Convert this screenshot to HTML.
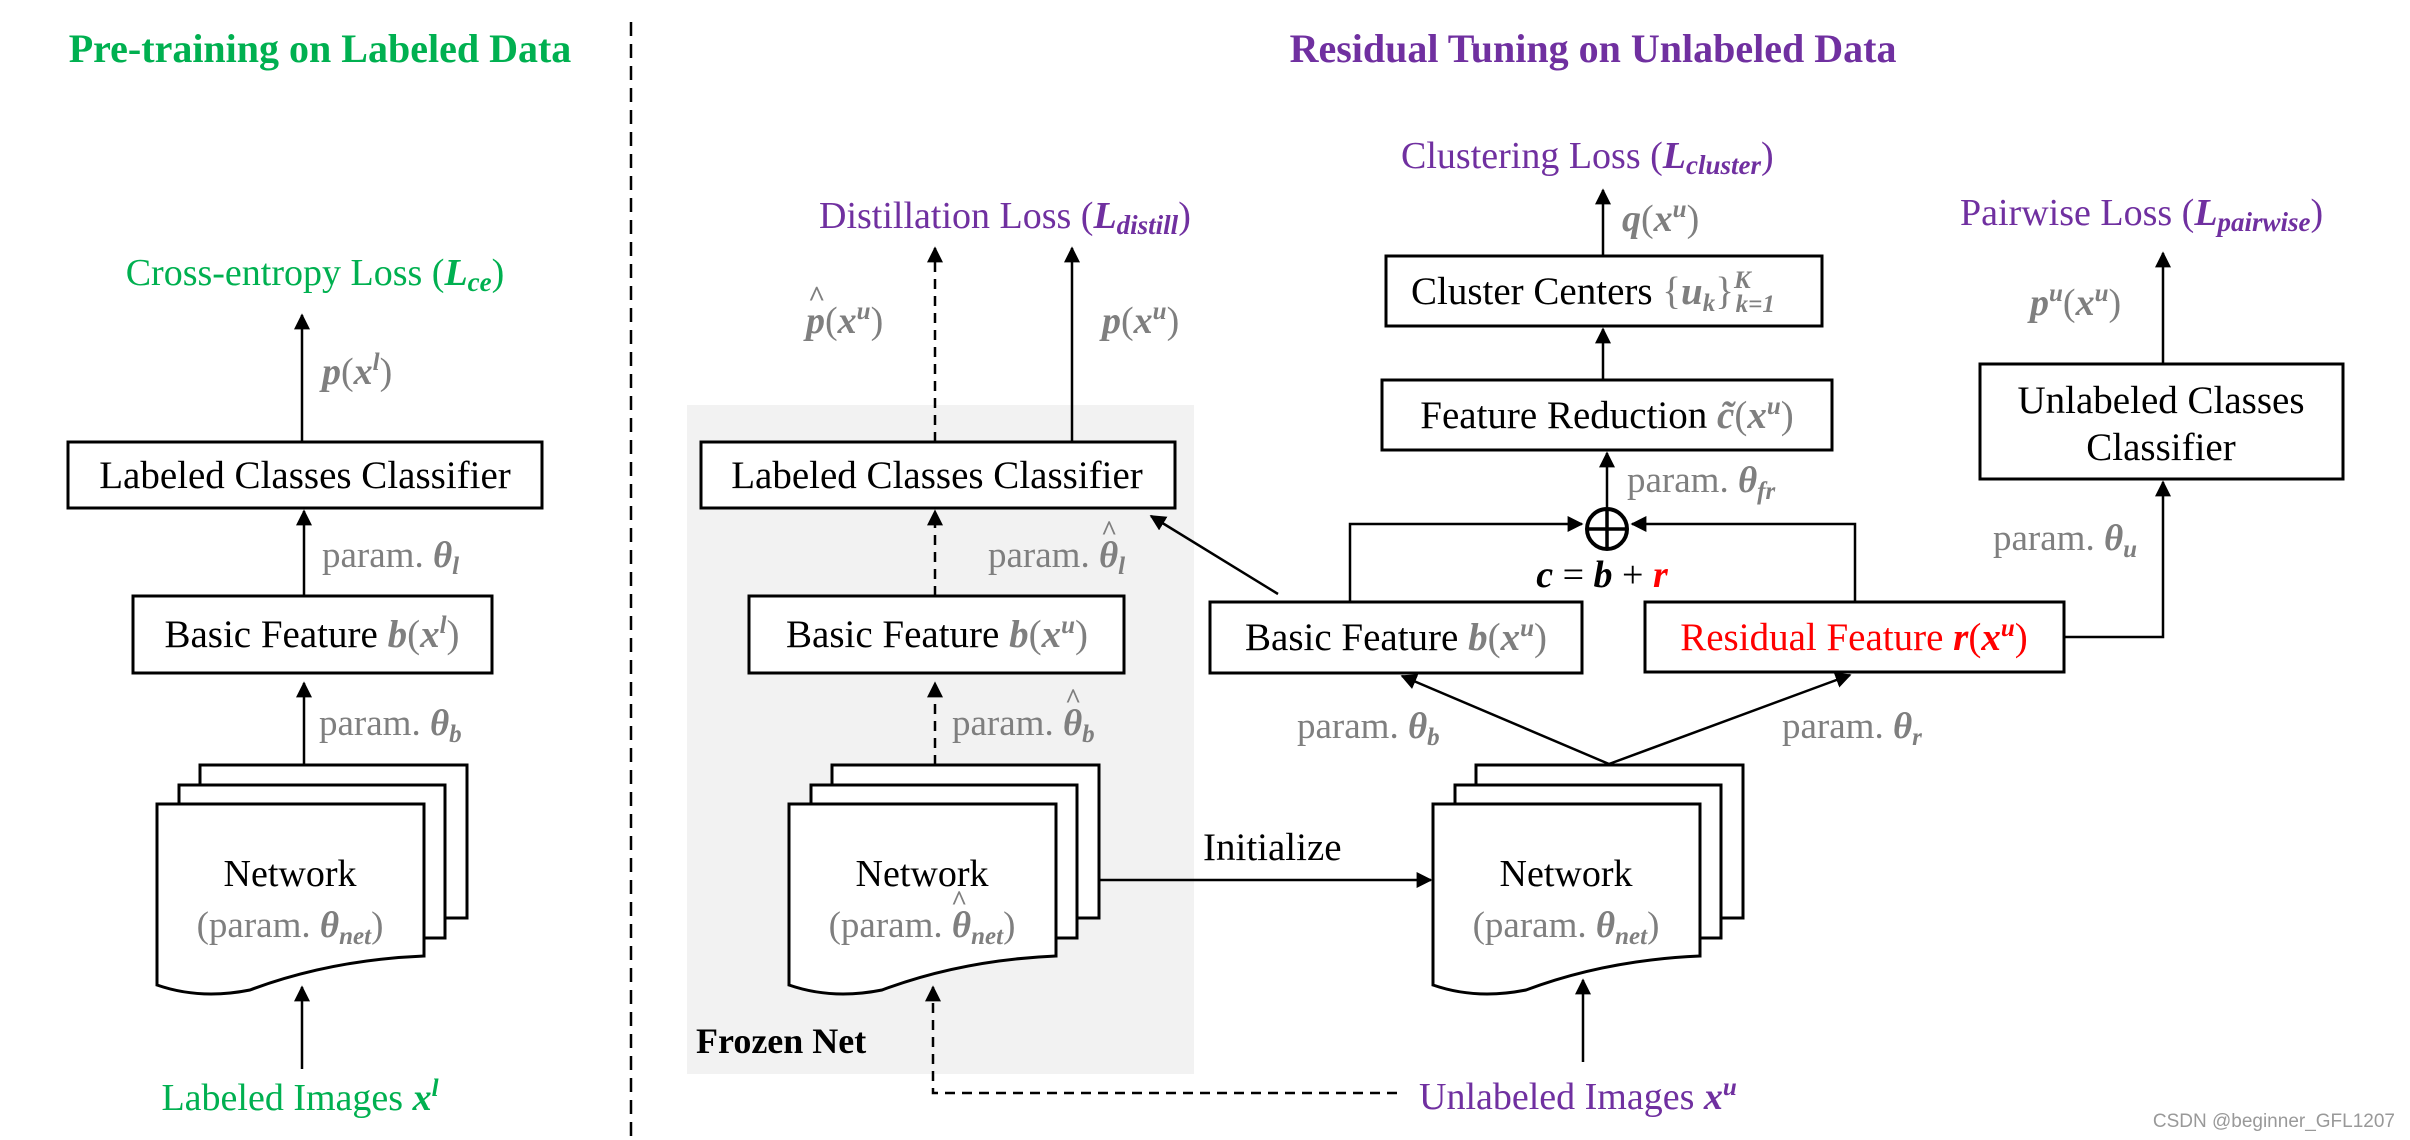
<!DOCTYPE html>
<html><head><meta charset="utf-8"><style>
html,body{margin:0;padding:0;background:#fff}
svg{display:block}
text{font-family:"Liberation Serif",serif}
.bx{fill:#fff;stroke:#000;stroke-width:3}
.t{font-size:39px;fill:#000}
.g{fill:#7f7f7f}
.m{font-style:italic;font-weight:bold}
.gr{fill:#00b050}
.pu{fill:#7030a0}
.ln{stroke:#000;stroke-width:2.5;fill:none}
.ds{stroke:#000;stroke-width:2.5;fill:none;stroke-dasharray:10,7}
</style></head><body>
<svg width="2410" height="1140" viewBox="0 0 2410 1140" xmlns="http://www.w3.org/2000/svg">
<defs>
<marker id="ah" viewBox="0 0 10 10" refX="9" refY="5" markerWidth="16" markerHeight="16" orient="auto" markerUnits="userSpaceOnUse"><path d="M0,0 L10,5 L0,10 z" fill="#000"/></marker>
</defs>

<rect x="687" y="405" width="507" height="669" fill="#f2f2f2"/>
<line x1="631" y1="22" x2="631" y2="1140" stroke="#000" stroke-width="2.5" stroke-dasharray="14,8"/>

<text x="320" y="62" text-anchor="middle" font-size="40" font-weight="bold" class="gr">Pre-training on Labeled Data</text>
<text x="1593" y="62" text-anchor="middle" font-size="40" font-weight="bold" class="pu">Residual Tuning on Unlabeled Data</text>

<!-- LEFT -->
<text x="315" y="285" text-anchor="middle" font-size="38" class="gr">Cross-entropy Loss (<tspan class="m">L<tspan font-size="27" dy="6">ce</tspan></tspan><tspan dy="-6">)</tspan></text>
<line x1="302" y1="442" x2="302" y2="315" class="ln" marker-end="url(#ah)"/>
<text x="322" y="384" font-size="38" class="g"><tspan class="m">p</tspan>(<tspan class="m">x</tspan><tspan class="m" font-size="25" dy="-14">l</tspan><tspan dy="14">)</tspan></text>
<rect x="68" y="442" width="474" height="66" class="bx"/>
<text x="305" y="488" text-anchor="middle" class="t">Labeled Classes Classifier</text>
<line x1="304" y1="596" x2="304" y2="511" class="ln" marker-end="url(#ah)"/>
<text x="322" y="567" font-size="37" class="g">param. <tspan class="m">θ<tspan font-size="25" dy="7">l</tspan></tspan></text>
<rect x="133" y="596" width="359" height="77" class="bx"/>
<text x="312" y="647" text-anchor="middle" class="t">Basic Feature <tspan class="g m">b</tspan><tspan class="g">(<tspan class="m">x</tspan><tspan class="m" font-size="25" dy="-14">l</tspan><tspan dy="14">)</tspan></tspan></text>
<line x1="304" y1="765" x2="304" y2="683" class="ln" marker-end="url(#ah)"/>
<text x="319" y="735" font-size="37" class="g">param. <tspan class="m">θ<tspan font-size="25" dy="7">b</tspan></tspan></text>

<g>
<rect x="200" y="765" width="267" height="153" class="bx" stroke-width="2.5"/>
<rect x="179" y="785" width="266" height="153" class="bx" stroke-width="2.5"/>
<path d="M157,804 L424,804 L424,956 Q330,960 250,990 Q200,1000 157,985 Z" class="bx" stroke-width="2.5"/>
<text x="290" y="886" text-anchor="middle" font-size="38">Network</text>
<text x="290" y="937" text-anchor="middle" font-size="37" class="g">(param. <tspan class="m">θ<tspan font-size="25" dy="7">net</tspan></tspan><tspan dy="-7">)</tspan></text>
</g>
<line x1="302" y1="1069" x2="302" y2="987" class="ln" marker-end="url(#ah)"/>
<text x="300" y="1110" text-anchor="middle" font-size="38" class="gr">Labeled Images <tspan class="m">x</tspan><tspan class="m" font-size="25" dy="-14">l</tspan></text>

<!-- FROZEN -->
<text x="819" y="228" font-size="38" class="pu">Distillation Loss (<tspan class="m">L<tspan font-size="27" dy="6">distill</tspan></tspan><tspan dy="-6">)</tspan></text>
<line x1="935" y1="442" x2="935" y2="248" class="ds" marker-end="url(#ah)"/>
<line x1="1072" y1="442" x2="1072" y2="248" class="ln" marker-end="url(#ah)"/>
<text x="806" y="333" font-size="38" class="g"><tspan class="m">p</tspan>(<tspan class="m">x</tspan><tspan class="m" font-size="25" dy="-14">u</tspan><tspan dy="14">)</tspan></text>
<text x="808" y="306" font-size="30" class="g" font-weight="bold">^</text>
<text x="1102" y="333" font-size="38" class="g"><tspan class="m">p</tspan>(<tspan class="m">x</tspan><tspan class="m" font-size="25" dy="-14">u</tspan><tspan dy="14">)</tspan></text>
<rect x="701" y="442" width="474" height="66" class="bx"/>
<text x="937" y="488" text-anchor="middle" class="t">Labeled Classes Classifier</text>
<line x1="935" y1="596" x2="935" y2="511" class="ds" marker-end="url(#ah)"/>
<text x="988" y="567" font-size="37" class="g">param. <tspan class="m">θ<tspan font-size="25" dy="7">l</tspan></tspan></text>
<text x="1101" y="540" font-size="28" class="g" font-weight="bold">^</text>
<rect x="749" y="596" width="375" height="77" class="bx"/>
<text x="937" y="647" text-anchor="middle" class="t">Basic Feature <tspan class="g m">b</tspan><tspan class="g">(<tspan class="m">x</tspan><tspan class="m" font-size="25" dy="-14">u</tspan><tspan dy="14">)</tspan></tspan></text>
<line x1="935" y1="765" x2="935" y2="683" class="ds" marker-end="url(#ah)"/>
<text x="952" y="735" font-size="37" class="g">param. <tspan class="m">θ<tspan font-size="25" dy="7">b</tspan></tspan></text>
<text x="1065" y="708" font-size="28" class="g" font-weight="bold">^</text>
<g>
<rect x="832" y="765" width="267" height="153" class="bx" stroke-width="2.5"/>
<rect x="811" y="785" width="266" height="153" class="bx" stroke-width="2.5"/>
<path d="M789,804 L1056,804 L1056,956 Q962,960 882,990 Q832,1000 789,985 Z" class="bx" stroke-width="2.5"/>
<text x="922" y="886" text-anchor="middle" font-size="38">Network</text>
<text x="922" y="937" text-anchor="middle" font-size="37" class="g">(param. <tspan class="m">θ<tspan font-size="25" dy="7">net</tspan></tspan><tspan dy="-7">)</tspan></text>
<text x="951" y="910" font-size="28" class="g" font-weight="bold">^</text>
</g>
<text x="696" y="1053" font-size="36" font-weight="bold">Frozen Net</text>
<path d="M1397,1093 L933,1093 L933,987" class="ds" marker-end="url(#ah)"/>

<line x1="1099" y1="880" x2="1431" y2="880" class="ln" marker-end="url(#ah)"/>
<text x="1203" y="860" font-size="39">Initialize</text>

<!-- RIGHT -->
<text x="1401" y="168" font-size="38" class="pu">Clustering Loss (<tspan class="m">L<tspan font-size="27" dy="6">cluster</tspan></tspan><tspan dy="-6">)</tspan></text>
<line x1="1603" y1="256" x2="1603" y2="190" class="ln" marker-end="url(#ah)"/>
<text x="1622" y="231" font-size="38" class="g"><tspan class="m">q</tspan>(<tspan class="m">x</tspan><tspan class="m" font-size="25" dy="-14">u</tspan><tspan dy="14">)</tspan></text>
<rect x="1386" y="256" width="436" height="70" class="bx"/>
<text x="1411" y="304" class="t">Cluster Centers <tspan class="g">{<tspan class="m">u</tspan><tspan class="m" font-size="25" dy="7">k</tspan><tspan dy="-7">}</tspan><tspan class="m" font-size="25" dy="-16">K</tspan><tspan class="m" font-size="25" dx="-15" dy="24">k=1</tspan></tspan></text>
<line x1="1603" y1="380" x2="1603" y2="329" class="ln" marker-end="url(#ah)"/>
<rect x="1382" y="380" width="450" height="70" class="bx"/>
<text x="1607" y="428" text-anchor="middle" class="t">Feature Reduction <tspan class="g m">c̃</tspan><tspan class="g">(<tspan class="m">x</tspan><tspan class="m" font-size="25" dy="-14">u</tspan><tspan dy="14">)</tspan></tspan></text>
<line x1="1607" y1="507" x2="1607" y2="453" class="ln" marker-end="url(#ah)"/>
<text x="1627" y="492" font-size="37" class="g">param. <tspan class="m">θ<tspan font-size="25" dy="7">fr</tspan></tspan></text>
<circle cx="1607" cy="529" r="20" fill="none" stroke="#000" stroke-width="4"/>
<line x1="1587" y1="529" x2="1627" y2="529" stroke="#000" stroke-width="3.5"/>
<line x1="1607" y1="509" x2="1607" y2="549" stroke="#000" stroke-width="3.5"/>
<text x="1602" y="587" text-anchor="middle" font-size="38"><tspan class="m">c</tspan> = <tspan class="m">b</tspan> + <tspan class="m" fill="#ff0000">r</tspan></text>
<path d="M1350,602 L1350,524 L1582,524" class="ln" marker-end="url(#ah)"/>
<path d="M1855,602 L1855,524 L1632,524" class="ln" marker-end="url(#ah)"/>
<line x1="1278" y1="594" x2="1151" y2="516" class="ln" marker-end="url(#ah)"/>
<rect x="1210" y="602" width="372" height="71" class="bx"/>
<text x="1396" y="650" text-anchor="middle" class="t">Basic Feature <tspan class="g m">b</tspan><tspan class="g">(<tspan class="m">x</tspan><tspan class="m" font-size="25" dy="-14">u</tspan><tspan dy="14">)</tspan></tspan></text>
<rect x="1645" y="602" width="419" height="70" class="bx"/>
<text x="1854" y="650" text-anchor="middle" class="t" style="fill:#ff0000">Residual Feature <tspan class="m">r</tspan>(<tspan class="m">x</tspan><tspan class="m" font-size="25" dy="-14">u</tspan><tspan dy="14">)</tspan></text>
<line x1="1609" y1="764" x2="1402" y2="676" class="ln" marker-end="url(#ah)"/>
<line x1="1609" y1="764" x2="1850" y2="675" class="ln" marker-end="url(#ah)"/>
<text x="1297" y="738" font-size="37" class="g">param. <tspan class="m">θ<tspan font-size="25" dy="7">b</tspan></tspan></text>
<text x="1782" y="738" font-size="37" class="g">param. <tspan class="m">θ<tspan font-size="25" dy="7">r</tspan></tspan></text>
<g>
<rect x="1476" y="765" width="267" height="153" class="bx" stroke-width="2.5"/>
<rect x="1455" y="785" width="266" height="153" class="bx" stroke-width="2.5"/>
<path d="M1433,804 L1700,804 L1700,956 Q1606,960 1526,990 Q1476,1000 1433,985 Z" class="bx" stroke-width="2.5"/>
<text x="1566" y="886" text-anchor="middle" font-size="38">Network</text>
<text x="1566" y="937" text-anchor="middle" font-size="37" class="g">(param. <tspan class="m">θ<tspan font-size="25" dy="7">net</tspan></tspan><tspan dy="-7">)</tspan></text>
</g>
<line x1="1583" y1="1062" x2="1583" y2="980" class="ln" marker-end="url(#ah)"/>
<text x="1419" y="1109" font-size="38" class="pu">Unlabeled Images <tspan class="m">x</tspan><tspan class="m" font-size="25" dy="-14">u</tspan></text>

<text x="1960" y="225" font-size="38" class="pu">Pairwise Loss (<tspan class="m">L<tspan font-size="27" dy="6">pairwise</tspan></tspan><tspan dy="-6">)</tspan></text>
<line x1="2163" y1="364" x2="2163" y2="253" class="ln" marker-end="url(#ah)"/>
<text x="2030" y="315" font-size="38" class="g"><tspan class="m">p</tspan><tspan class="m" font-size="25" dy="-14">u</tspan><tspan dy="14">(</tspan><tspan class="m">x</tspan><tspan class="m" font-size="25" dy="-14">u</tspan><tspan dy="14">)</tspan></text>
<rect x="1980" y="364" width="363" height="115" class="bx"/>
<text x="2161" y="413" text-anchor="middle" class="t">Unlabeled Classes</text>
<text x="2161" y="460" text-anchor="middle" class="t">Classifier</text>
<path d="M2064,637 L2163,637 L2163,482" class="ln" marker-end="url(#ah)"/>
<text x="1993" y="550" font-size="37" class="g">param. <tspan class="m">θ<tspan font-size="25" dy="7">u</tspan></tspan></text>

<text x="2395" y="1127" text-anchor="end" font-size="19" fill="#999" style="font-family:'Liberation Sans',sans-serif">CSDN @beginner_GFL1207</text>
</svg>
</body></html>
